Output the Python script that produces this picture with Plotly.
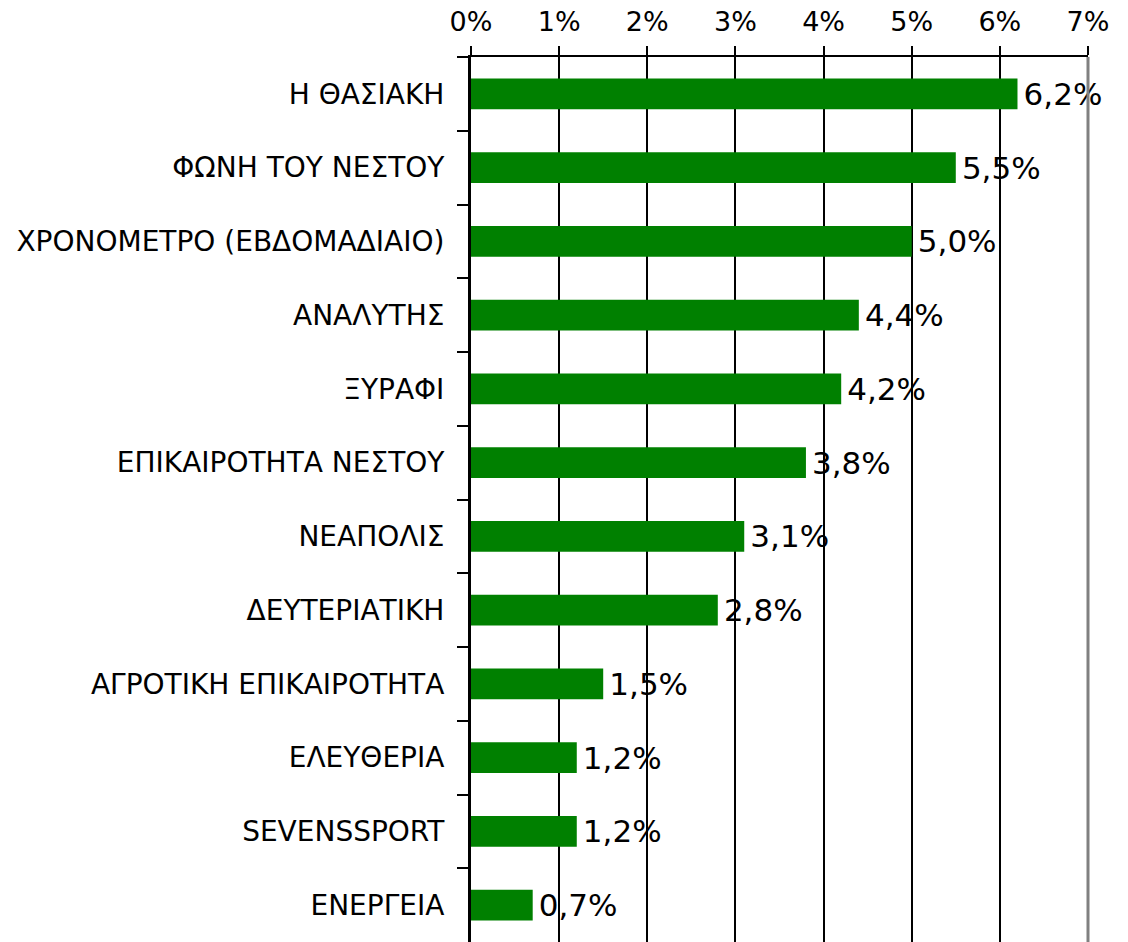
import plotly.graph_objects as go

# data
titles = ['Η ΘΑΣΙΑΚΗ', 'ΦΩΝΗ ΤΟΥ ΝΕΣΤΟΥ', 'ΧΡΟΝΟΜΕΤΡΟ (ΕΒΔΟΜΑΔΙΑΙΟ)', 'ΑΝΑΛΥΤΗΣ',
          'ΞΥΡΑΦΙ', 'ΕΠΙΚΑΙΡΟΤΗΤΑ ΝΕΣΤΟΥ', 'ΝΕΑΠΟΛΙΣ', 'ΔΕΥΤΕΡΙΑΤΙΚΗ',
          'ΑΓΡΟΤΙΚΗ ΕΠΙΚΑΙΡΟΤΗΤΑ', 'ΕΛΕΥΘΕΡΙΑ', 'SEVENSSPORT', 'ΕΝΕΡΓΕΙΑ']
share = [6.2, 5.5, 5.0, 4.4, 4.2, 3.8, 3.1, 2.8, 1.5, 1.2, 1.2, 0.7]
labels = ['\u200a{:.1f}%'.format(v).replace('.', ',') for v in share]

FONT = 'DejaVu Sans'

fig = go.Figure(go.Bar(
    x=share, y=titles, orientation='h',
    marker=dict(color='#008000', line=dict(width=0)),
    text=labels, textposition='outside', cliponaxis=False,
    constraintext='none',
    textfont=dict(family=FONT, size=31, color='black'),
))

fig.update_layout(
    width=1128, height=942,
    margin=dict(l=471, r=40, t=57, b=0),
    plot_bgcolor='white', paper_bgcolor='white',
    bargap=0.58, showlegend=False,
    font=dict(family=FONT, color='black'),
    shapes=[dict(type='line', xref='x domain', yref='y domain',
                 x0=1, x1=1, y0=0, y1=1, line=dict(color='#808080', width=3))],
)
fig.update_xaxes(
    side='top', range=[0, 7], dtick=1, ticksuffix='%',
    showgrid=True, gridcolor='black', gridwidth=2,
    showline=True, linecolor='black', linewidth=2,
    ticks='outside', ticklen=9, tickwidth=2, tickcolor='black',
    tickfont=dict(family=FONT, size=27), ticklabelstandoff=4,
    zeroline=False, automargin=False,
)
fig.update_yaxes(
    autorange='reversed', tickson='boundaries',
    showline=True, linecolor='black', linewidth=3,
    ticks='outside', ticklen=11, tickwidth=2, tickcolor='black',
    tickfont=dict(family=FONT, size=28), ticklabelstandoff=18,
    showgrid=False, automargin=False,
)

# drop the default body margin so the figure sits at the page corner
fig.write_html("out.html", config={"displayModeBar": False},
               post_script="document.body.style.margin='0';")
